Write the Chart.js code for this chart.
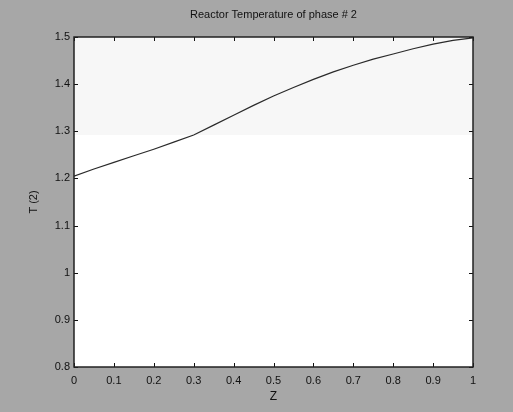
<!DOCTYPE html>
<html>
<head>
<meta charset="utf-8">
<script src="https://cdn.jsdelivr.net/npm/chart.js@4"></script>
<style>
  html, body { margin: 0; padding: 0; background: #a7a7a7; }
  #wrap { width: 513px; height: 412px; position: relative; }
</style>
</head>
<body>
<div id="wrap"><canvas id="c" width="513" height="412"></canvas></div>
<script>
// Axial position along the reactor (dimensionless)
const zPositions = [0, 0.05, 0.1, 0.15, 0.2, 0.25, 0.3, 0.35, 0.4, 0.45, 0.5,
                    0.55, 0.6, 0.65, 0.7, 0.75, 0.8, 0.85, 0.9, 0.95, 1.0];
// Temperature of phase 2 at each position
const temperature = [1.205, 1.220, 1.234, 1.248, 1.262, 1.277, 1.292, 1.313, 1.334, 1.355, 1.375,
                     1.393, 1.410, 1.426, 1.440, 1.453, 1.464, 1.475, 1.485, 1.493, 1.498];
const xTicks = [0, 0.1, 0.2, 0.3, 0.4, 0.5, 0.6, 0.7, 0.8, 0.9, 1];
const yTicks = [0.8, 0.9, 1, 1.1, 1.2, 1.3, 1.4, 1.5];
const titleText = 'Reactor Temperature of phase # 2';

const FONT = 'Liberation Sans, Arial, sans-serif';
const fmt = v => String(Math.round(v * 10) / 10);

// Axes box: white plot area, black frame, inward ticks on all four sides, title
const framePlugin = {
  id: 'frame',
  beforeDraw(chart) {
    const { ctx, chartArea: a } = chart;
    ctx.save();
    ctx.fillStyle = '#ffffff';
    ctx.fillRect(a.left, a.top, a.right - a.left, a.bottom - a.top);
    // faint shading in the upper part of the axes
    const yb = chart.scales.y.getPixelForValue(1.292);
    ctx.fillStyle = '#f7f7f7';
    ctx.fillRect(a.left, a.top, a.right - a.left, yb - a.top);
    ctx.restore();
  },
  afterDraw(chart) {
    const { ctx, chartArea: a, scales } = chart;
    ctx.save();
    ctx.strokeStyle = '#111';
    ctx.lineWidth = 1;
    const L = 4;
    ctx.beginPath();
    xTicks.forEach(v => {
      const px = Math.round(scales.x.getPixelForValue(v)) + 0.5;
      ctx.moveTo(px, a.bottom); ctx.lineTo(px, a.bottom - L);
      ctx.moveTo(px, a.top); ctx.lineTo(px, a.top + L);
    });
    yTicks.forEach(v => {
      const py = Math.round(scales.y.getPixelForValue(v)) + 0.5;
      ctx.moveTo(a.left, py); ctx.lineTo(a.left + L, py);
      ctx.moveTo(a.right, py); ctx.lineTo(a.right - L, py);
    });
    ctx.stroke();
    ctx.strokeStyle = '#222';
    ctx.lineWidth = 1.5;
    ctx.strokeRect(a.left, a.top, a.right - a.left, a.bottom - a.top);
    ctx.fillStyle = '#111';
    ctx.font = '11px ' + FONT;
    ctx.textAlign = 'center';
    ctx.textBaseline = 'middle';
    ctx.fillText(titleText, (a.left + a.right) / 2, 15);
    ctx.restore();
  }
};

new Chart(document.getElementById('c'), {
  type: 'line',
  data: {
    datasets: [{
      data: zPositions.map((z, i) => ({ x: z, y: temperature[i] })),
      borderColor: '#2a2a2a',
      borderWidth: 1.2,
      pointRadius: 0,
      tension: 0,
      fill: false
    }]
  },
  options: {
    responsive: false,
    animation: false,
    devicePixelRatio: 1,
    layout: { padding: { left: 0, top: 37, right: 40, bottom: 0 } },
    plugins: { legend: { display: false }, tooltip: { enabled: false }, title: { display: false } },
    scales: {
      x: {
        type: 'linear', min: 0, max: 1,
        afterFit(s) { s.height = 45; },
        afterBuildTicks(s) { s.ticks = xTicks.map(v => ({ value: v })); },
        grid: { display: false, drawTicks: false },
        border: { display: false },
        ticks: { color: '#111', font: { family: FONT, size: 11 }, padding: 7, maxRotation: 0, autoSkip: false, callback: fmt },
        title: { display: true, text: 'Z', color: '#111', font: { family: FONT, size: 12 }, padding: { top: 0, bottom: 8 } }
      },
      y: {
        type: 'linear', min: 0.8, max: 1.5,
        afterFit(s) { s.width = 74; },
        afterBuildTicks(s) { s.ticks = yTicks.map(v => ({ value: v })); },
        grid: { display: false, drawTicks: false },
        border: { display: false },
        ticks: { color: '#111', font: { family: FONT, size: 11 }, padding: 4, autoSkip: false, callback: fmt },
        title: { display: true, text: 'T (2)', color: '#111', font: { family: FONT, size: 11 }, padding: { top: 27, bottom: 0 } }
      }
    }
  },
  plugins: [framePlugin]
});
</script>
</body>
</html>
